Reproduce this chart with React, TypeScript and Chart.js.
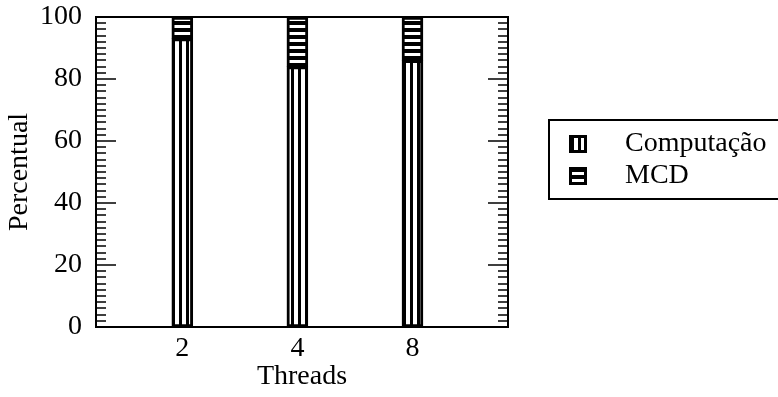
import React, { useEffect, useRef } from "react";
import { Chart, registerables } from "chart.js";

Chart.register(...registerables);

const threads = ["2", "4", "8"];
const positions = [1, 2, 3];
const computacao = [93, 84, 86];
const mcd = [7, 16, 14];
const yTicks = [0, 20, 40, 60, 80, 100];
const minorStep = 2;
const majorStep = 20;
const seriesNames = ["Computação", "MCD"];

const FONT = "'Liberation Serif', 'Times New Roman', serif";

function makeVerticalPattern(ctx: CanvasRenderingContext2D) {
  const c = document.createElement("canvas");
  c.width = 7;
  c.height = 4;
  const g = c.getContext("2d")!;
  g.fillStyle = "#fff";
  g.fillRect(0, 0, 7, 4);
  g.fillStyle = "#000";
  g.fillRect(4, 0, 3, 4);
  return ctx.createPattern(c, "repeat")!;
}

function makeHorizontalPattern(ctx: CanvasRenderingContext2D) {
  const c = document.createElement("canvas");
  c.width = 4;
  c.height = 7;
  const g = c.getContext("2d")!;
  g.fillStyle = "#000";
  g.fillRect(0, 0, 4, 7);
  g.fillStyle = "#fff";
  g.fillRect(0, 4, 4, 3);
  return ctx.createPattern(c, "repeat")!;
}

export default function App() {
  const ref = useRef<HTMLCanvasElement | null>(null);

  useEffect(() => {
    document.body.style.margin = "0";
    const canvas = ref.current!;
    const ctx = canvas.getContext("2d")!;
    const vPat = makeVerticalPattern(ctx);
    const hPat = makeHorizontalPattern(ctx);

    const framePlugin = {
      id: "frame",
      afterDatasetsDraw(chart: any) {
        const c = chart.ctx as CanvasRenderingContext2D;
        const { left, right, top, bottom } = chart.chartArea;
        const y = chart.scales.y;
        c.save();
        c.strokeStyle = "#000";
        c.lineWidth = 1.5;
        for (let v = 0; v <= 100; v += minorStep) {
          const py = Math.round(y.getPixelForValue(v));
          const len = v % majorStep === 0 ? 20 : 10;
          c.beginPath();
          c.moveTo(left, py);
          c.lineTo(left + len, py);
          c.moveTo(right, py);
          c.lineTo(right - len, py);
          c.stroke();
        }
        c.lineWidth = 2;
        c.strokeRect(left, top, right - left, bottom - top);

        // legend
        const bx = right + 41;
        const by = 120;
        c.lineWidth = 2;
        c.strokeRect(bx, by, 300, 79);
        const pats = [vPat, hPat];
        const iconY = [135, 167];
        for (let i = 0; i < seriesNames.length; i++) {
          c.fillStyle = pats[i];
          c.fillRect(bx + 20, iconY[i], 18, 18);
          c.lineWidth = 3;
          c.strokeRect(bx + 21.5, iconY[i] + 1.5, 15, 15);
          c.fillStyle = "#000";
          c.font = `28px ${FONT}`;
          c.textBaseline = "middle";
          c.textAlign = "left";
          c.fillText(seriesNames[i], bx + 76, iconY[i] + 9);
        }
        c.restore();
      },
    };

    const chart = new Chart(canvas, {
      type: "bar",
      data: {
        datasets: [
          {
            label: seriesNames[0],
            data: positions.map((p, i) => ({ x: p, y: computacao[i] })),
            backgroundColor: vPat,
            borderColor: "#000",
            borderWidth: 3,
            borderSkipped: false,
            barThickness: 21,
          },
          {
            label: seriesNames[1],
            data: positions.map((p, i) => ({ x: p, y: mcd[i] })),
            backgroundColor: hPat,
            borderColor: "#000",
            borderWidth: 3,
            borderSkipped: false,
            barThickness: 21,
          },
        ],
      },
      options: {
        responsive: false,
        animation: false,
        layout: { padding: { left: 0, top: 0, right: 270, bottom: 0 } },
        plugins: { legend: { display: false }, tooltip: { enabled: false } },
        scales: {
          x: {
            type: "linear",
            stacked: true,
            offset: false,
            min: 0.25,
            max: 3.83,
            grid: { display: false, drawTicks: false, offset: false },
            border: { display: false },
            afterBuildTicks: (s: any) => {
              s.ticks = positions.map((v) => ({ value: v }));
            },
            afterFit: (s: any) => {
              s.height = 70;
            },
            ticks: {
              padding: 5,
              color: "#000",
              font: { family: FONT, size: 28 },
              maxRotation: 0,
              callback: (v: any) => {
                const i = positions.indexOf(Number(v));
                return i >= 0 ? threads[i] : "";
              },
            },
            title: {
              display: true,
              text: "Threads",
              color: "#000",
              font: { family: FONT, size: 28 },
              padding: { top: 0, bottom: 4 },
            },
          },
          y: {
            stacked: true,
            min: 0,
            max: 100,
            grid: { display: false, drawTicks: false },
            border: { display: false },
            afterBuildTicks: (s: any) => {
              s.ticks = yTicks.map((v) => ({ value: v }));
            },
            afterFit: (s: any) => {
              s.width = 96;
              s.paddingTop = 17;
              s.paddingBottom = 0;
            },
            ticks: {
              padding: 14,
              color: "#000",
              font: { family: FONT, size: 28, lineHeight: 1.2 },
            },
            title: {
              display: true,
              text: "Percentual",
              color: "#000",
              font: { family: FONT, size: 28 },
              padding: { top: 3, bottom: 0 },
            },
          },
        },
      },
      plugins: [framePlugin],
    });
    return () => chart.destroy();
  }, []);

  return (
    <div style={{ width: 778, height: 397, overflow: "hidden", background: "#fff" }}>
      <canvas ref={ref} width={778} height={397} />
    </div>
  );
}
